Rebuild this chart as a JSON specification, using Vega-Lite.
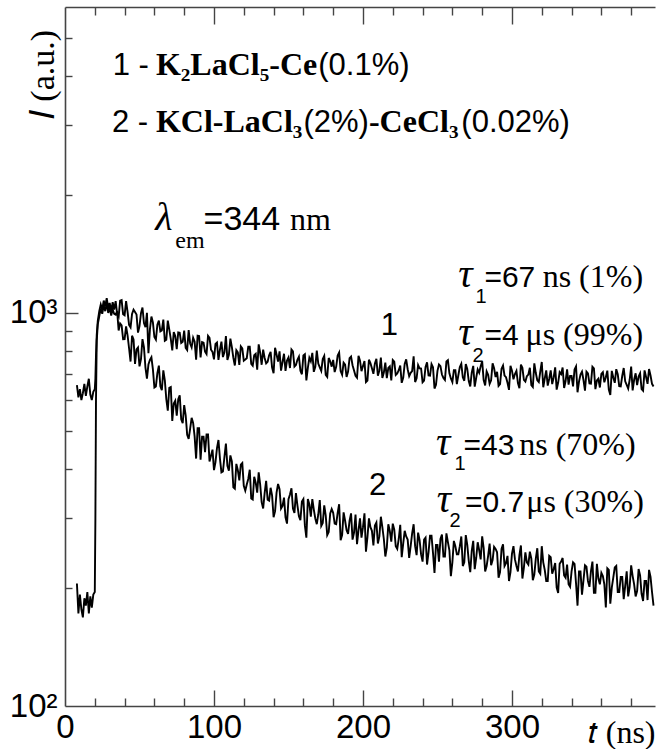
{
  "$schema": "https://vega.github.io/schema/vega-lite/v6.json",
  "width": 590,
  "height": 699,
  "autosize": "none",
  "padding": {"left": 65, "top": 7, "right": 5, "bottom": 43},
  "background": "white",
  "config": {
    "view": {"stroke": null},
    "axis": {"grid": false, "domainColor": "#444", "domainWidth": 1.6, "tickColor": "#444", "tickWidth": 1.4, "labelColor": "black", "titleColor": "black"}
  },
  "datasets": {
    "c1": [
      {"t":8,"I":655},{"t":9,"I":610},{"t":10,"I":640},{"t":11,"I":600},{"t":12,"I":625},{"t":13,"I":660},{"t":14,"I":615},{"t":15,"I":650},{"t":16,"I":680},{"t":17,"I":620},{"t":18,"I":600},{"t":19,"I":630},{"t":20,"I":640},{"t":20.4,"I":680},{"t":20.8,"I":780},{"t":21.3,"I":880},{"t":22,"I":955},{"t":23,"I":1010},{"t":24,"I":1050},{"t":25,"I":1020},{"t":26,"I":1075},{"t":27,"I":1040},{"t":28,"I":1090},{"t":29,"I":1030},{"t":30,"I":1060},{"t":31,"I":1010},{"t":32,"I":1065},{"t":33,"I":1020},
      {"t":34,"I":1071},{"t":36,"I":978},{"t":38,"I":1078},{"t":40,"I":986},{"t":42,"I":1006},{"t":44,"I":919},{"t":46,"I":1019},{"t":48,"I":991},{"t":50,"I":925},{"t":52,"I":1032},{"t":54,"I":920},{"t":56,"I":790},{"t":58,"I":979},{"t":60,"I":868},{"t":62,"I":933},{"t":64,"I":897},{"t":66,"I":961},{"t":68,"I":854},{"t":70,"I":907},{"t":72,"I":803},{"t":74,"I":873},{"t":76,"I":892},{"t":78,"I":838},{"t":80,"I":902},{"t":82,"I":805},{"t":84,"I":836},{"t":86,"I":865},{"t":88,"I":760},{"t":90,"I":873},{"t":92,"I":843},{"t":94,"I":797},{"t":96,"I":874},{"t":98,"I":806},{"t":100,"I":762},{"t":102,"I":841},{"t":104,"I":806},{"t":106,"I":772},{"t":108,"I":873},{"t":110,"I":782},{"t":112,"I":818},{"t":114,"I":735},{"t":116,"I":794},{"t":118,"I":822},{"t":120,"I":756},{"t":122,"I":767},{"t":124,"I":820},{"t":126,"I":734},{"t":128,"I":787},{"t":130,"I":832},{"t":132,"I":738},{"t":134,"I":768},{"t":136,"I":751},{"t":138,"I":796},{"t":140,"I":702},{"t":142,"I":784},{"t":144,"I":798},{"t":146,"I":750},{"t":148,"I":712},{"t":150,"I":770},{"t":152,"I":807},{"t":154,"I":730},{"t":156,"I":760},{"t":158,"I":713},{"t":160,"I":779},{"t":162,"I":673},{"t":164,"I":769},{"t":166,"I":791},{"t":168,"I":729},{"t":170,"I":743},{"t":172,"I":712},{"t":174,"I":777},{"t":176,"I":687},{"t":178,"I":753},{"t":180,"I":759},{"t":182,"I":729},{"t":184,"I":793},{"t":186,"I":696},{"t":188,"I":739},{"t":190,"I":709},{"t":192,"I":774},{"t":194,"I":714},{"t":196,"I":684},{"t":198,"I":756},{"t":200,"I":733},{"t":202,"I":667},{"t":204,"I":760},{"t":206,"I":723},{"t":208,"I":744},{"t":210,"I":692},{"t":212,"I":770},{"t":214,"I":705},{"t":216,"I":682},{"t":218,"I":731},{"t":220,"I":759},{"t":222,"I":695},{"t":224,"I":715},{"t":226,"I":664},{"t":228,"I":742},{"t":230,"I":719},{"t":232,"I":704},{"t":234,"I":775},{"t":236,"I":682},{"t":238,"I":723},{"t":240,"I":666},{"t":242,"I":729},{"t":244,"I":693},{"t":246,"I":741},{"t":248,"I":642},{"t":250,"I":712},{"t":252,"I":732},{"t":254,"I":683},{"t":256,"I":752},{"t":258,"I":702},{"t":260,"I":667},{"t":262,"I":715},{"t":264,"I":694},{"t":266,"I":742},{"t":268,"I":672},{"t":270,"I":720},{"t":272,"I":650},{"t":274,"I":733},{"t":276,"I":684},{"t":278,"I":704},{"t":280,"I":753},{"t":282,"I":654},{"t":284,"I":696},{"t":286,"I":674},{"t":288,"I":723},{"t":290,"I":708},{"t":292,"I":659},{"t":294,"I":735},{"t":296,"I":686},{"t":298,"I":637},{"t":300,"I":713},{"t":302,"I":699},{"t":304,"I":663},{"t":306,"I":739},{"t":308,"I":676},{"t":310,"I":690},{"t":312,"I":725},{"t":314,"I":648},{"t":316,"I":703},{"t":318,"I":667},{"t":320,"I":750},{"t":322,"I":681},{"t":324,"I":653},{"t":326,"I":714},{"t":328,"I":686},{"t":330,"I":638},{"t":332,"I":707},{"t":334,"I":726},{"t":336,"I":671},{"t":338,"I":657},{"t":340,"I":691},{"t":342,"I":718},{"t":344,"I":628},{"t":346,"I":697},{"t":348,"I":675},{"t":350,"I":709},{"t":352,"I":662},{"t":354,"I":729},{"t":356,"I":640},{"t":358,"I":680},{"t":360,"I":700},{"t":362,"I":666},{"t":364,"I":713},{"t":366,"I":618},{"t":368,"I":685},{"t":370,"I":719},{"t":372,"I":651},{"t":374,"I":691},{"t":376,"I":670},{"t":378,"I":642},{"t":380,"I":730},{"t":382,"I":676},{"t":384,"I":655},{"t":386,"I":702},{"t":388,"I":634},{"t":390,"I":687},{"t":392,"I":720},{"t":394,"I":660},{"t":395,"I":650},
      {"t":35,"I":994},{"t":37,"I":1074},{"t":39,"I":992},{"t":41,"I":1071},{"t":43,"I":932},{"t":45,"I":994},{"t":47,"I":1005},{"t":49,"I":891},{"t":51,"I":998},{"t":53,"I":942},{"t":55,"I":1001},{"t":57,"I":908},{"t":59,"I":946},{"t":61,"I":855},{"t":63,"I":956},{"t":65,"I":902},{"t":67,"I":849},{"t":69,"I":956},{"t":71,"I":859},{"t":73,"I":894},{"t":75,"I":809},{"t":77,"I":890},{"t":79,"I":844},{"t":81,"I":815},{"t":83,"I":904},{"t":85,"I":817},{"t":87,"I":845},{"t":89,"I":875},{"t":91,"I":770},{"t":93,"I":840},{"t":95,"I":786},{"t":97,"I":864},{"t":99,"I":796},{"t":101,"I":834},{"t":103,"I":759},{"t":105,"I":845},{"t":107,"I":794},{"t":109,"I":759},{"t":111,"I":860},{"t":113,"I":768},{"t":115,"I":804},{"t":117,"I":737},{"t":119,"I":812},{"t":121,"I":761},{"t":123,"I":820},{"t":125,"I":742},{"t":127,"I":780},{"t":129,"I":717},{"t":131,"I":792},{"t":133,"I":806},{"t":135,"I":744},{"t":137,"I":780},{"t":139,"I":726},{"t":141,"I":815},{"t":143,"I":752},{"t":145,"I":713},{"t":147,"I":787},{"t":149,"I":756},{"t":151,"I":724},{"t":153,"I":798},{"t":155,"I":737},{"t":157,"I":774},{"t":159,"I":698},{"t":161,"I":785},{"t":163,"I":725},{"t":165,"I":753},{"t":167,"I":708},{"t":169,"I":802},{"t":171,"I":727},{"t":173,"I":763},{"t":175,"I":695},{"t":177,"I":768},{"t":179,"I":730},{"t":181,"I":707},{"t":183,"I":779},{"t":185,"I":711},{"t":187,"I":747},{"t":189,"I":687},{"t":191,"I":767},{"t":193,"I":736},{"t":195,"I":692},{"t":197,"I":778},{"t":199,"I":711},{"t":201,"I":754},{"t":203,"I":673},{"t":205,"I":745},{"t":207,"I":700},{"t":209,"I":764},{"t":211,"I":713},{"t":213,"I":683},{"t":215,"I":747},{"t":217,"I":724},{"t":219,"I":673},{"t":221,"I":752},{"t":223,"I":701},{"t":225,"I":735},{"t":227,"I":684},{"t":229,"I":762},{"t":231,"I":690},{"t":233,"I":711},{"t":235,"I":667},{"t":237,"I":737},{"t":239,"I":722},{"t":241,"I":673},{"t":243,"I":749},{"t":245,"I":692},{"t":247,"I":727},{"t":249,"I":656},{"t":251,"I":739},{"t":253,"I":697},{"t":255,"I":675},{"t":257,"I":758},{"t":259,"I":681},{"t":261,"I":715},{"t":263,"I":659},{"t":265,"I":728},{"t":267,"I":686},{"t":269,"I":741},{"t":271,"I":671},{"t":273,"I":705},{"t":275,"I":649},{"t":277,"I":718},{"t":279,"I":732},{"t":281,"I":675},{"t":283,"I":710},{"t":285,"I":660},{"t":287,"I":744},{"t":289,"I":687},{"t":291,"I":652},{"t":293,"I":721},{"t":295,"I":693},{"t":297,"I":664},{"t":299,"I":734},{"t":301,"I":678},{"t":303,"I":712},{"t":305,"I":643},{"t":307,"I":725},{"t":309,"I":669},{"t":311,"I":697},{"t":313,"I":655},{"t":315,"I":744},{"t":317,"I":674},{"t":319,"I":709},{"t":321,"I":647},{"t":323,"I":714},{"t":325,"I":680},{"t":327,"I":659},{"t":329,"I":727},{"t":331,"I":665},{"t":333,"I":699},{"t":335,"I":644},{"t":337,"I":718},{"t":339,"I":691},{"t":341,"I":650},{"t":343,"I":731},{"t":345,"I":669},{"t":347,"I":709},{"t":349,"I":634},{"t":351,"I":702},{"t":353,"I":661},{"t":355,"I":722},{"t":357,"I":673},{"t":359,"I":646},{"t":361,"I":707},{"t":363,"I":686},{"t":365,"I":638},{"t":367,"I":712},{"t":369,"I":664},{"t":371,"I":698},{"t":373,"I":650},{"t":375,"I":724},{"t":377,"I":656},{"t":379,"I":676},{"t":381,"I":635},{"t":383,"I":702},{"t":385,"I":689},{"t":387,"I":640},{"t":389,"I":714},{"t":391,"I":660},{"t":393,"I":693}
    ],
    "c2": [
      {"t":8,"I":205},{"t":9,"I":172},{"t":10,"I":192},{"t":11,"I":176},{"t":12,"I":168},{"t":13,"I":188},{"t":14,"I":180},{"t":15,"I":195},{"t":16,"I":172},{"t":17,"I":190},{"t":18,"I":178},{"t":19,"I":192},{"t":20,"I":195},{"t":20.4,"I":300},{"t":20.8,"I":600},{"t":21.3,"I":850},{"t":22,"I":935},{"t":23,"I":980},{"t":24,"I":1025},{"t":25,"I":995},{"t":26,"I":1045},{"t":27,"I":1010},{"t":28,"I":1060},{"t":29,"I":1000},{"t":30,"I":1035},{"t":31,"I":985},{"t":32,"I":1020},{"t":33,"I":995},
      {"t":34,"I":990},{"t":36,"I":902},{"t":38,"I":930},{"t":40,"I":858},{"t":42,"I":877},{"t":44,"I":752},{"t":46,"I":856},{"t":48,"I":808},{"t":50,"I":731},{"t":52,"I":858},{"t":54,"I":726},{"t":56,"I":739},{"t":58,"I":771},{"t":60,"I":646},{"t":62,"I":703},{"t":64,"I":651},{"t":66,"I":714},{"t":68,"I":603},{"t":70,"I":645},{"t":72,"I":531},{"t":74,"I":598},{"t":76,"I":603},{"t":78,"I":536},{"t":80,"I":583},{"t":82,"I":490},{"t":84,"I":508},{"t":86,"I":525},{"t":88,"I":426},{"t":90,"I":509},{"t":92,"I":484},{"t":94,"I":442},{"t":96,"I":491},{"t":98,"I":433},{"t":100,"I":398},{"t":102,"I":453},{"t":104,"I":426},{"t":106,"I":395},{"t":108,"I":465},{"t":110,"I":397},{"t":112,"I":419},{"t":114,"I":357},{"t":116,"I":398},{"t":118,"I":411},{"t":120,"I":363},{"t":122,"I":366},{"t":124,"I":399},{"t":126,"I":335},{"t":128,"I":370},{"t":130,"I":393},{"t":132,"I":330},{"t":134,"I":348},{"t":136,"I":335},{"t":138,"I":359},{"t":140,"I":302},{"t":142,"I":349},{"t":144,"I":356},{"t":146,"I":323},{"t":148,"I":302},{"t":150,"I":336},{"t":152,"I":358},{"t":154,"I":310},{"t":156,"I":324},{"t":158,"I":297},{"t":160,"I":336},{"t":162,"I":268},{"t":164,"I":326},{"t":166,"I":336},{"t":168,"I":300},{"t":170,"I":307},{"t":172,"I":287},{"t":174,"I":324},{"t":176,"I":272},{"t":178,"I":309},{"t":180,"I":310},{"t":182,"I":290},{"t":184,"I":326},{"t":186,"I":272},{"t":188,"I":296},{"t":190,"I":274},{"t":192,"I":309},{"t":194,"I":276},{"t":196,"I":258},{"t":198,"I":300},{"t":200,"I":285},{"t":202,"I":247},{"t":204,"I":300},{"t":206,"I":279},{"t":208,"I":288},{"t":210,"I":259},{"t":212,"I":303},{"t":214,"I":266},{"t":216,"I":253},{"t":218,"I":279},{"t":220,"I":291},{"t":222,"I":255},{"t":224,"I":266},{"t":226,"I":239},{"t":228,"I":279},{"t":230,"I":265},{"t":232,"I":255},{"t":234,"I":290},{"t":236,"I":242},{"t":238,"I":264},{"t":240,"I":233},{"t":242,"I":268},{"t":244,"I":246},{"t":246,"I":271},{"t":248,"I":218},{"t":250,"I":257},{"t":252,"I":266},{"t":254,"I":240},{"t":256,"I":275},{"t":258,"I":249},{"t":260,"I":232},{"t":262,"I":255},{"t":264,"I":243},{"t":266,"I":270},{"t":268,"I":232},{"t":270,"I":257},{"t":272,"I":219},{"t":274,"I":263},{"t":276,"I":238},{"t":278,"I":249},{"t":280,"I":270},{"t":282,"I":220},{"t":284,"I":241},{"t":286,"I":228},{"t":288,"I":254},{"t":290,"I":246},{"t":292,"I":219},{"t":294,"I":258},{"t":296,"I":231},{"t":298,"I":208},{"t":300,"I":244},{"t":302,"I":236},{"t":304,"I":220},{"t":306,"I":256},{"t":308,"I":225},{"t":310,"I":232},{"t":312,"I":247},{"t":314,"I":209},{"t":316,"I":237},{"t":318,"I":220},{"t":320,"I":255},{"t":322,"I":222},{"t":324,"I":208},{"t":326,"I":239},{"t":328,"I":223},{"t":330,"I":200},{"t":332,"I":230},{"t":334,"I":238},{"t":336,"I":212},{"t":338,"I":204},{"t":340,"I":220},{"t":342,"I":230},{"t":344,"I":180},{"t":346,"I":220},{"t":348,"I":209},{"t":350,"I":226},{"t":352,"I":201},{"t":354,"I":233},{"t":356,"I":194},{"t":358,"I":211},{"t":360,"I":218},{"t":362,"I":204},{"t":364,"I":224},{"t":366,"I":182},{"t":368,"I":212},{"t":370,"I":227},{"t":372,"I":195},{"t":374,"I":213},{"t":376,"I":202},{"t":378,"I":190},{"t":380,"I":228},{"t":382,"I":204},{"t":384,"I":196},{"t":386,"I":215},{"t":388,"I":185},{"t":390,"I":208},{"t":392,"I":222},{"t":394,"I":195},{"t":395,"I":180},
      {"t":35,"I":1010},{"t":37,"I":940},{"t":39,"I":857},{"t":41,"I":924},{"t":43,"I":813},{"t":45,"I":875},{"t":47,"I":742},{"t":49,"I":817},{"t":51,"I":763},{"t":53,"I":817},{"t":55,"I":680},{"t":57,"I":759},{"t":59,"I":718},{"t":61,"I":650},{"t":63,"I":734},{"t":65,"I":636},{"t":67,"I":674},{"t":69,"I":564},{"t":71,"I":648},{"t":73,"I":588},{"t":75,"I":548},{"t":77,"I":617},{"t":79,"I":524},{"t":81,"I":549},{"t":83,"I":478},{"t":85,"I":541},{"t":87,"I":485},{"t":89,"I":509},{"t":91,"I":423},{"t":93,"I":484},{"t":95,"I":491},{"t":97,"I":419},{"t":99,"I":449},{"t":101,"I":417},{"t":103,"I":475},{"t":105,"I":393},{"t":107,"I":430},{"t":109,"I":408},{"t":111,"I":434},{"t":113,"I":360},{"t":115,"I":413},{"t":117,"I":375},{"t":119,"I":415},{"t":121,"I":353},{"t":123,"I":378},{"t":125,"I":337},{"t":127,"I":383},{"t":129,"I":349},{"t":131,"I":366},{"t":133,"I":318},{"t":135,"I":374},{"t":137,"I":333},{"t":139,"I":343},{"t":141,"I":313},{"t":143,"I":367},{"t":145,"I":318},{"t":147,"I":339},{"t":149,"I":291},{"t":151,"I":345},{"t":153,"I":318},{"t":155,"I":348},{"t":157,"I":304},{"t":159,"I":331},{"t":161,"I":288},{"t":163,"I":336},{"t":165,"I":303},{"t":167,"I":316},{"t":169,"I":290},{"t":171,"I":334},{"t":173,"I":292},{"t":175,"I":305},{"t":177,"I":277},{"t":179,"I":317},{"t":181,"I":291},{"t":183,"I":310},{"t":185,"I":264},{"t":187,"I":311},{"t":189,"I":280},{"t":191,"I":296},{"t":193,"I":265},{"t":195,"I":307},{"t":197,"I":280},{"t":199,"I":268},{"t":201,"I":309},{"t":203,"I":269},{"t":205,"I":285},{"t":207,"I":256},{"t":209,"I":293},{"t":211,"I":270},{"t":213,"I":285},{"t":215,"I":240},{"t":217,"I":290},{"t":219,"I":262},{"t":221,"I":281},{"t":223,"I":251},{"t":225,"I":289},{"t":227,"I":259},{"t":229,"I":270},{"t":231,"I":238},{"t":233,"I":275},{"t":235,"I":255},{"t":237,"I":276},{"t":239,"I":243},{"t":241,"I":265},{"t":243,"I":229},{"t":245,"I":271},{"t":247,"I":245},{"t":249,"I":257},{"t":251,"I":233},{"t":253,"I":273},{"t":255,"I":240},{"t":257,"I":261},{"t":259,"I":214},{"t":261,"I":263},{"t":263,"I":243},{"t":265,"I":255},{"t":267,"I":227},{"t":269,"I":272},{"t":271,"I":234},{"t":273,"I":248},{"t":275,"I":223},{"t":277,"I":261},{"t":279,"I":236},{"t":281,"I":252},{"t":283,"I":227},{"t":285,"I":259},{"t":287,"I":235},{"t":289,"I":251},{"t":291,"I":212},{"t":293,"I":251},{"t":295,"I":227},{"t":297,"I":241},{"t":299,"I":219},{"t":301,"I":255},{"t":303,"I":227},{"t":305,"I":242},{"t":307,"I":211},{"t":309,"I":246},{"t":311,"I":229},{"t":313,"I":237},{"t":315,"I":216},{"t":317,"I":252},{"t":319,"I":217},{"t":321,"I":232},{"t":323,"I":208},{"t":325,"I":241},{"t":327,"I":217},{"t":329,"I":231},{"t":331,"I":194},{"t":333,"I":233},{"t":335,"I":215},{"t":337,"I":229},{"t":339,"I":201},{"t":341,"I":232},{"t":343,"I":205},{"t":345,"I":220},{"t":347,"I":192},{"t":349,"I":228},{"t":351,"I":208},{"t":353,"I":220},{"t":355,"I":194},{"t":357,"I":230},{"t":359,"I":204},{"t":361,"I":214},{"t":363,"I":178},{"t":365,"I":222},{"t":367,"I":200},{"t":369,"I":225},{"t":371,"I":195},{"t":373,"I":213},{"t":375,"I":187},{"t":377,"I":220},{"t":379,"I":201},{"t":381,"I":214},{"t":383,"I":190},{"t":385,"I":223},{"t":387,"I":193},{"t":389,"I":208},{"t":391,"I":186},{"t":393,"I":213}
    ]
  },
  "encoding": {
    "x": {"field": "t", "type": "quantitative", "scale": {"domain": [0, 396], "nice": false, "zero": false}},
    "y": {"field": "I", "type": "quantitative", "scale": {"type": "log", "domain": [100, 6000], "nice": false}}
  },
  "resolve": {"axis": {"x": "independent", "y": "independent"}},
  "layer": [
    {
      "data": {"name": "c1"},
      "mark": {"type": "line", "color": "black", "strokeWidth": 1.9},
      "encoding": {
        "x": {"field": "t", "type": "quantitative", "axis": {"orient": "bottom", "values": [0, 100, 200, 300], "ticks": false, "domain": true, "labelFlush": false, "labelFont": "Liberation Sans", "labelFontSize": 33, "labelPadding": 5, "title": "𝑡 (ns)", "titleFont": "Liberation Serif", "titleFontSize": 32, "titleFontWeight": "normal", "titleX": 590, "titleY": 36, "titleAlign": "right", "titleBaseline": "alphabetic"}},
        "y": {"field": "I", "type": "quantitative", "axis": {"orient": "left", "values": [100, 1000], "ticks": false, "domain": true, "labelExpr": "datum.value == 100 ? '10²' : '10³'", "labelFont": "Liberation Sans", "labelFontSize": 33, "labelPadding": 8, "labelBaseline": "middle", "title": "𝐼 (a.u.)", "titleFont": "Liberation Serif", "titleFontSize": 34, "titleFontWeight": "normal", "titleX": -22, "titleY": 67, "titleAngle": -90, "titleAlign": "center", "titleBaseline": "middle"}}
      }
    },
    {
      "data": {"name": "c2"},
      "mark": {"type": "line", "color": "black", "strokeWidth": 1.9},
      "encoding": {
        "x": {"field": "t", "type": "quantitative", "axis": {"orient": "bottom", "values": [100, 200, 300], "labels": false, "domain": false, "tickSize": -16, "title": null}},
        "y": {"field": "I", "type": "quantitative", "axis": {"orient": "left", "values": [1000], "labels": false, "domain": false, "tickSize": -13, "title": null}}
      }
    },
    {
      "data": {"values": [
        {"t": 32, "I": 4030, "label": "1 -"},
        {"t": 170, "I": 4030, "label": "(0.1%)"},
        {"t": 31.5, "I": 2890, "label": "2 -"},
        {"t": 160, "I": 2890, "label": "(2%)"},
        {"t": 266, "I": 2890, "label": "(0.02%)"},
        {"t": 212, "I": 879, "label": "1"},
        {"t": 204, "I": 344, "label": "2"}
      ]},
      "mark": {"type": "text", "align": "left", "baseline": "alphabetic", "font": "Liberation Sans", "fontSize": 31, "color": "black"},
      "encoding": {
        "x": {"field": "t", "type": "quantitative", "axis": {"orient": "bottom", "values": [20, 40, 60, 80, 120, 140, 160, 180, 220, 240, 260, 280, 320, 340, 360, 380], "labels": false, "domain": false, "tickSize": -8, "title": null}},
        "y": {"field": "I", "type": "quantitative", "axis": {"orient": "left", "values": [200, 300, 400, 500, 600, 700, 800, 900, 2000, 3000, 4000, 5000], "labels": false, "domain": false, "tickSize": -7, "title": null}},
        "text": {"field": "label"}
      }
    },
    {
      "data": {"values": [
        {"t": 61, "I": 4030, "label": "K₂LaCl₅-Ce"},
        {"t": 61, "I": 2890, "label": "KCl-LaCl₃"},
        {"t": 204, "I": 2890, "label": "-CeCl₃"}
      ]},
      "mark": {"type": "text", "align": "left", "baseline": "alphabetic", "font": "Liberation Serif", "fontWeight": "bold", "fontSize": 32, "color": "black"},
      "encoding": {
        "x": {"field": "t", "type": "quantitative", "axis": {"orient": "top", "values": [100, 200, 300], "labels": false, "domain": true, "tickSize": -17, "title": null}},
        "y": {"field": "I", "type": "quantitative", "axis": null},
        "text": {"field": "label"}
      }
    },
    {
      "data": {"values": [
        {"t": 388, "I": 1165, "label": "ns (1%)"},
        {"t": 388, "I": 829, "label": "μs (99%)"},
        {"t": 383, "I": 435, "label": "ns (70%)"},
        {"t": 388.5, "I": 312, "label": "μs (30%)"},
        {"t": 178.5, "I": 1626, "label": "nm"}
      ]},
      "mark": {"type": "text", "align": "right", "baseline": "alphabetic", "font": "Liberation Serif", "fontSize": 32, "color": "black"},
      "encoding": {
        "x": {"field": "t", "type": "quantitative", "axis": {"orient": "top", "values": [20, 40, 60, 80, 120, 140, 160, 180, 220, 240, 260, 280, 320, 340, 360, 380], "labels": false, "domain": false, "tickSize": -8, "title": null}},
        "y": {"field": "I", "type": "quantitative", "axis": null},
        "text": {"field": "label"}
      }
    },
    {
      "data": {"values": [
        {"t": 93, "I": 1626, "label": "=344"}
      ]},
      "mark": {"type": "text", "align": "left", "baseline": "alphabetic", "font": "Liberation Sans", "fontSize": 34, "color": "black"},
      "encoding": {
        "x": {"field": "t", "type": "quantitative", "axis": null},
        "y": {"field": "I", "type": "quantitative", "axis": null},
        "text": {"field": "label"}
      }
    },
    {
      "data": {"values": [
        {"t": 281.5, "I": 1165, "label": "=67"},
        {"t": 281.5, "I": 829, "label": "=4"},
        {"t": 267.5, "I": 435, "label": "=43"},
        {"t": 268.5, "I": 312, "label": "=0.7"}
      ]},
      "mark": {"type": "text", "align": "left", "baseline": "alphabetic", "font": "Liberation Sans", "fontSize": 30, "color": "black"},
      "encoding": {
        "x": {"field": "t", "type": "quantitative", "axis": null},
        "y": {"field": "I", "type": "quantitative", "axis": null},
        "text": {"field": "label"}
      }
    },
    {
      "data": {"values": [
        {"t": 264, "I": 1165, "label": "τ"},
        {"t": 264, "I": 829, "label": "τ"},
        {"t": 249, "I": 435, "label": "τ"},
        {"t": 249.5, "I": 312, "label": "τ"},
        {"t": 60.5, "I": 1626, "label": "λ"}
      ]},
      "mark": {"type": "text", "align": "left", "baseline": "alphabetic", "font": "Liberation Serif", "fontStyle": "italic", "fontSize": 40, "color": "black"},
      "encoding": {
        "x": {"field": "t", "type": "quantitative", "axis": null},
        "y": {"field": "I", "type": "quantitative", "axis": null},
        "text": {"field": "label"}
      }
    },
    {
      "data": {"values": [
        {"t": 275.5, "I": 1060, "label": "1"},
        {"t": 273.5, "I": 750, "label": "2"},
        {"t": 261.5, "I": 399, "label": "1"},
        {"t": 258, "I": 285, "label": "2"}
      ]},
      "mark": {"type": "text", "align": "left", "baseline": "alphabetic", "font": "Liberation Sans", "fontSize": 20, "color": "black"},
      "encoding": {
        "x": {"field": "t", "type": "quantitative", "axis": null},
        "y": {"field": "I", "type": "quantitative", "axis": null},
        "text": {"field": "label"}
      }
    },
    {
      "data": {"values": [
        {"t": 74, "I": 1463, "label": "em"}
      ]},
      "mark": {"type": "text", "align": "left", "baseline": "alphabetic", "font": "Liberation Serif", "fontSize": 24, "color": "black"},
      "encoding": {
        "x": {"field": "t", "type": "quantitative", "axis": null},
        "y": {"field": "I", "type": "quantitative", "axis": null},
        "text": {"field": "label"}
      }
    }
  ]
}
